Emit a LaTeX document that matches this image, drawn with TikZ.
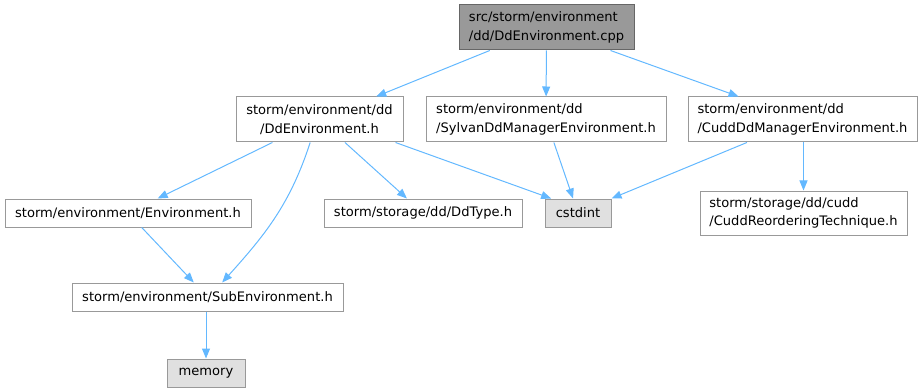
\documentclass[tikz,border=0pt]{standalone}
\usepackage{fontspec}
\setmainfont{DejaVu Sans}
\usepackage{tikz}
\usetikzlibrary{arrows.meta}
\definecolor{edgeblue}{HTML}{63B8FF}
\definecolor{rootfill}{HTML}{999999}
\definecolor{rootdraw}{HTML}{666666}
\definecolor{boxdraw}{HTML}{999999}
\definecolor{extfill}{HTML}{E0E0E0}

\begin{document}
\begin{tikzpicture}[x=0.75pt, y=-0.75pt, every node/.style={font=\fontsize{9.8}{14}\selectfont, inner sep=2pt},
	file/.style={draw=boxdraw, fill=white, line width=0.75pt, minimum height=21pt},
	rootfile/.style={file, draw=rootdraw, fill=rootfill},
	extfile/.style={file, fill=extfill},
	edge/.style={draw=edgeblue, line width=0.75pt, -{Triangle[length=7.5pt, width=6pt]}}]
	\useasboundingbox (0,0) rectangle (924,392);
	% top row
	\node[rootfile, minimum width=131.25pt, minimum height=33.75pt, align=left] (root) at (546.5,27.5) {src/storm/environment\\/dd/DdEnvironment.cpp};
	% headers included directly
	\node[file, minimum width=125.25pt, minimum height=33.75pt, align=center] (ddenv) at (319.5,119.5) {storm/environment/dd\\/DdEnvironment.h};
	\node[file, minimum width=180pt, minimum height=33.75pt, align=left] (sylvan) at (546,119.5) {storm/environment/dd\\/SylvanDdManagerEnvironment.h};
	\node[file, minimum width=171.75pt, minimum height=33.75pt, align=left] (cuddmgr) at (802.5,119.5) {storm/environment/dd\\/CuddDdManagerEnvironment.h};
	% third row
	\node[file, minimum width=184.5pt] (env) at (128,213) {storm/environment/Environment.h};
	\node[file, minimum width=148.5pt] (ddtype) at (423,213) {storm/storage/dd/DdType.h};
	\node[extfile, minimum width=49.5pt] (cstdint) at (578,213) {cstdint};
	\node[file, minimum width=155.25pt, minimum height=33pt, align=left] (reorder) at (803.5,213) {storm/storage/dd/cudd\\/CuddReorderingTechnique.h};
	% bottom
	\node[file, minimum width=203.25pt] (subenv) at (207.5,297) {storm/environment/SubEnvironment.h};
	\node[extfile, minimum width=58.5pt] (memory) at (206,373) {memory};

	\draw[edge] (root) -- (ddenv);
	\draw[edge] (root) -- (sylvan);
	\draw[edge] (root) -- (cuddmgr);
	\draw[edge] (ddenv) -- (env);
	\draw[edge] ([xshift=-7pt]ddenv.south) to[out=-108, in=48] ([xshift=11pt]subenv.north);
	\draw[edge] (ddenv) -- (ddtype);
	\draw[edge] ([xshift=-6pt]ddenv.south east) -- ([xshift=5pt]cstdint.north west);
	\draw[edge] (sylvan) -- (cstdint);
	\draw[edge] (cuddmgr) -- (cstdint.north east);
	\draw[edge] (cuddmgr.south -| reorder) -- (reorder);
	\draw[edge] (env) -- (subenv);
	\draw[edge] (subenv.south -| memory) -- (memory);
\end{tikzpicture}
\end{document}
